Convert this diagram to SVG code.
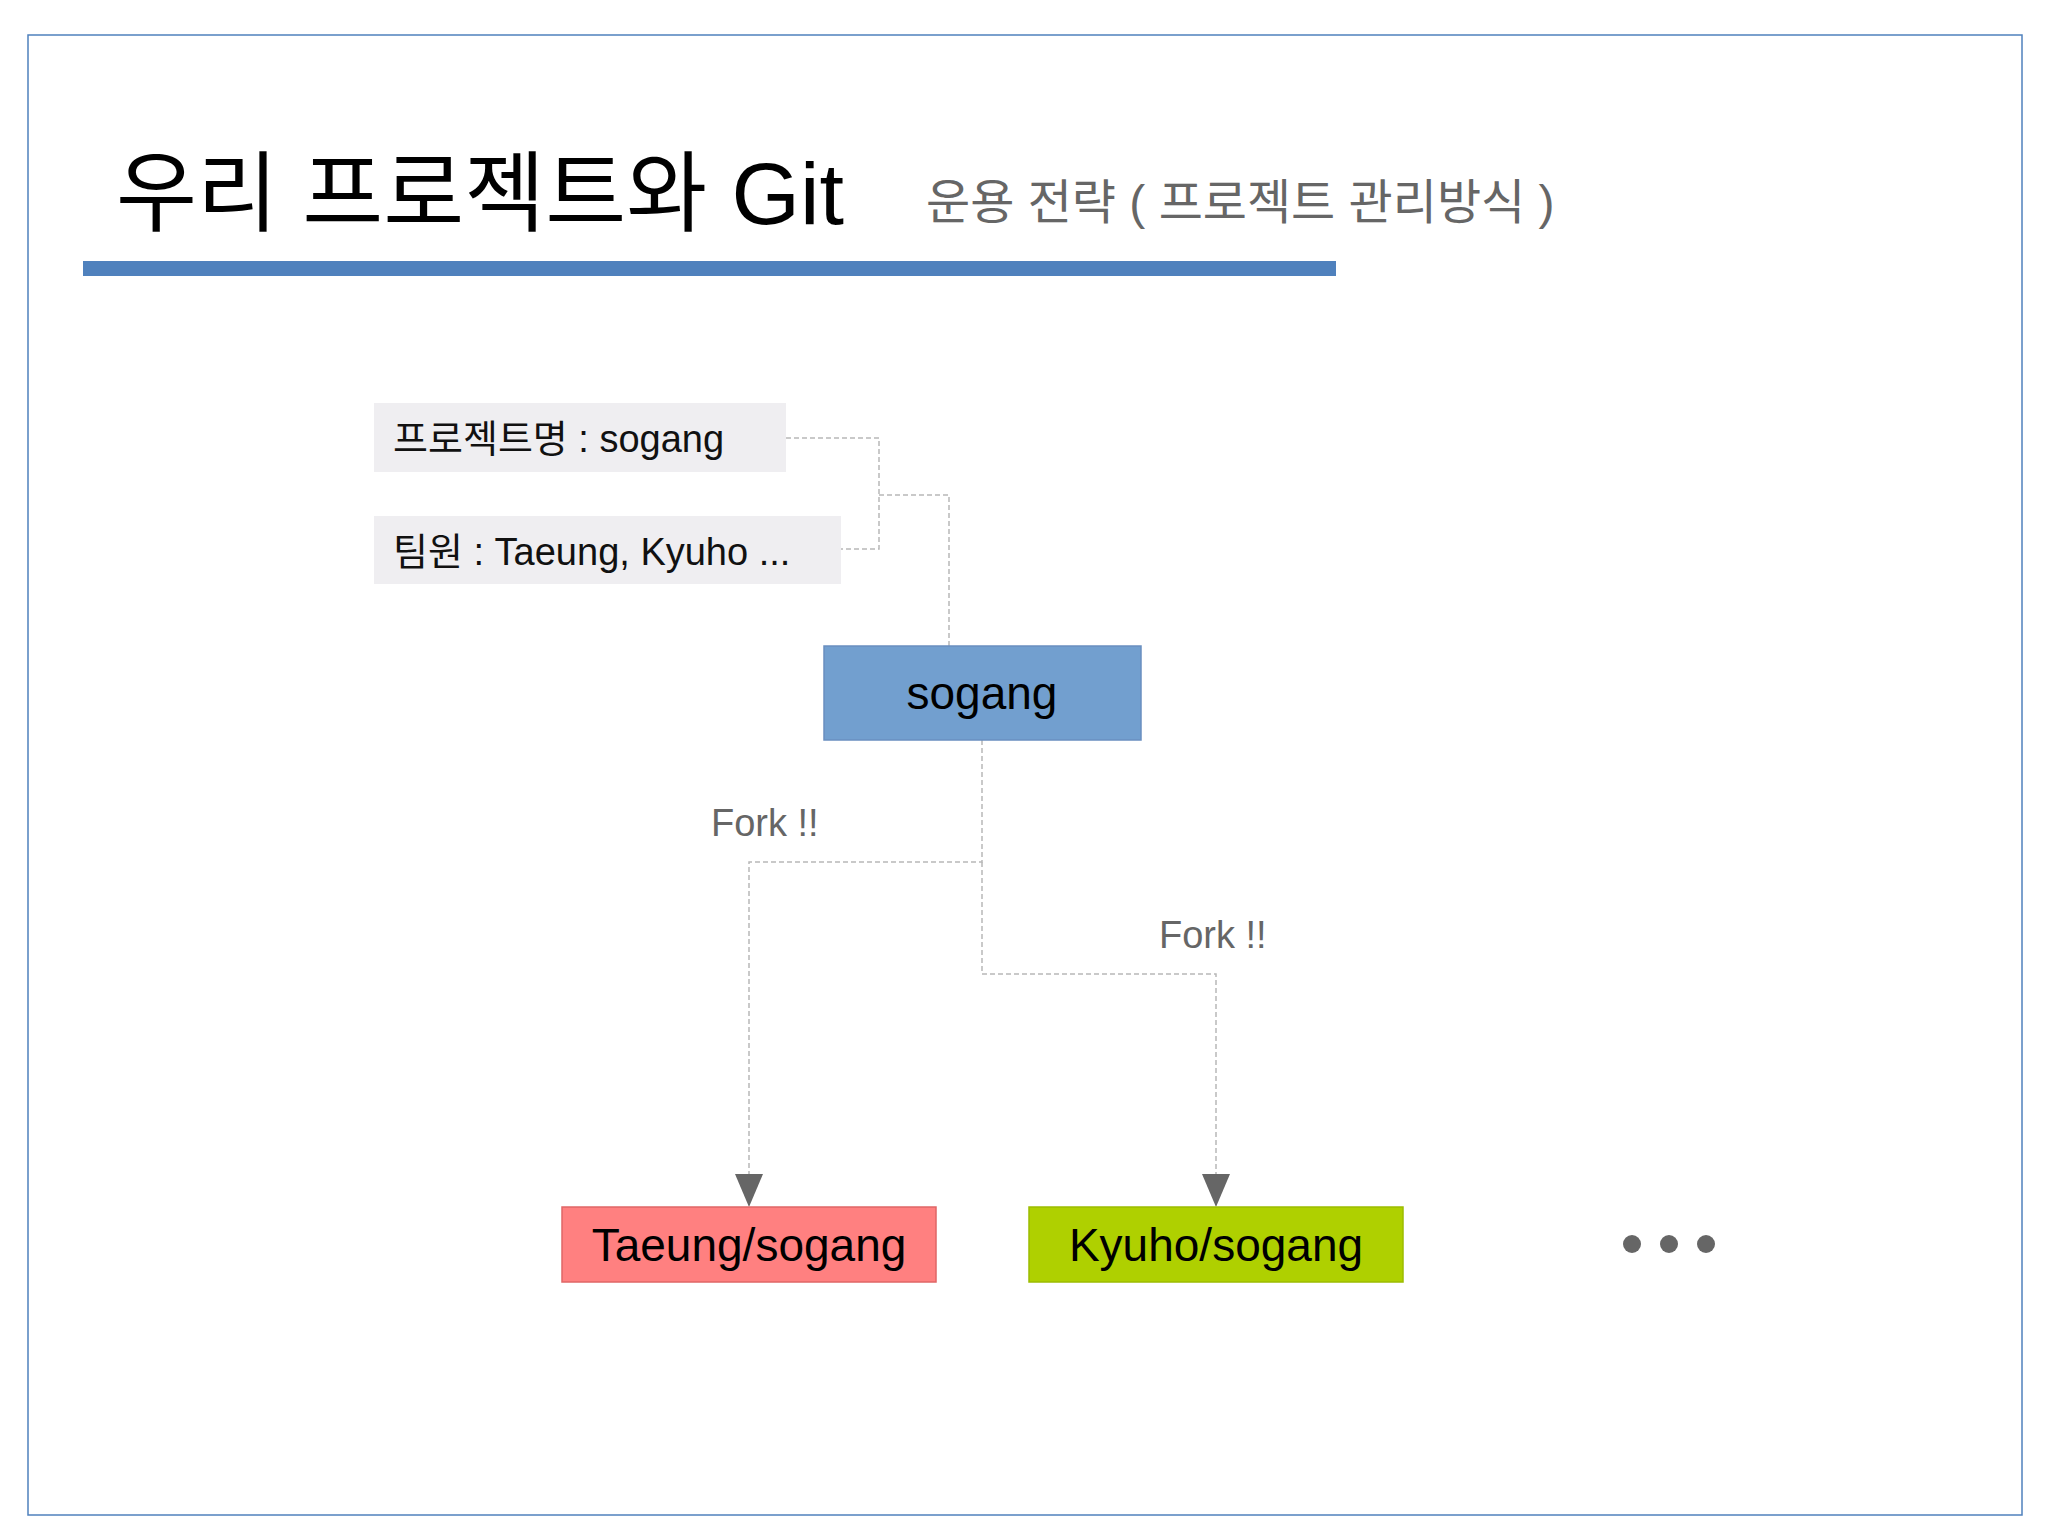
<svg xmlns="http://www.w3.org/2000/svg" width="2048" height="1535" viewBox="0 0 2048 1535">
<style>
text{font-family:"Liberation Sans","Noto Sans CJK KR",sans-serif}
.c{fill:none;stroke:#b8b8b8;stroke-width:1.5;stroke-dasharray:5 3}
.lbl{font-size:38px;fill:#111}
.fork{font-size:38px;fill:#666}
.nd{font-size:46px;fill:#000;text-anchor:middle}
</style>
<defs><marker id="ah" markerWidth="28" markerHeight="33" refX="14" refY="33" orient="auto-start-reverse" markerUnits="userSpaceOnUse" viewBox="0 0 28 33"><path d="M0,0 L28,0 L14,33 Z" fill="#666" transform="rotate(0)"/></marker></defs>
<rect width="2048" height="1535" fill="#fff"/>
<rect x="28" y="35" width="1994" height="1480" fill="none" stroke="#4f81bd" stroke-width="1.5"/>
<g id="title">
<text x="116" y="224" font-size="88" fill="#000">우리 프로젝트와 Git</text>
<text x="926" y="219" font-size="48" fill="#666">운용 전략 ( 프로젝트 관리방식 )</text>
<rect x="83" y="261" width="1253" height="15" fill="#4f81bd"/>
</g>
<g id="connectors">
<path class="c" d="M786,438 H879 V549 H841"/>
<path class="c" d="M879,495 H949 V646"/>
<path class="c" d="M982,740 V862 H749 V1174"/>
<path class="c" d="M982,862 V974 H1216 V1174"/>
<path d="M735,1174 L763,1174 L749,1207 Z" fill="#666"/>
<path d="M1202,1174 L1230,1174 L1216,1207 Z" fill="#666"/>
<text class="fork" x="711" y="836">Fork !!</text>
<text class="fork" x="1159" y="948">Fork !!</text>
</g>
<g id="info1"><rect x="374" y="403" width="412" height="69" fill="#efeef1"/><text class="lbl" x="393" y="452">프로젝트명  : sogang</text></g>
<g id="info2"><rect x="374" y="516" width="467" height="68" fill="#efeef1"/><text class="lbl" x="393" y="565">팀원  : Taeung, Kyuho ...</text></g>
<g id="sogang"><rect x="824" y="646" width="317" height="94" fill="#729fcf" stroke="#6a8fc0" stroke-width="1.5"/><text class="nd" x="982" y="709">sogang</text></g>
<g id="taeung"><rect x="562" y="1207" width="374" height="75" fill="#ff8080" stroke="#e06666" stroke-width="1.5"/><text class="nd" x="749" y="1261">Taeung/sogang</text></g>
<g id="kyuho"><rect x="1029" y="1207" width="374" height="75" fill="#afd000" stroke="#9cbc00" stroke-width="1.5"/><text class="nd" x="1216" y="1261">Kyuho/sogang</text></g>
<g id="more" fill="#666"><circle cx="1632" cy="1244" r="9"/><circle cx="1669" cy="1244" r="9"/><circle cx="1706" cy="1244" r="9"/></g>
</svg>
